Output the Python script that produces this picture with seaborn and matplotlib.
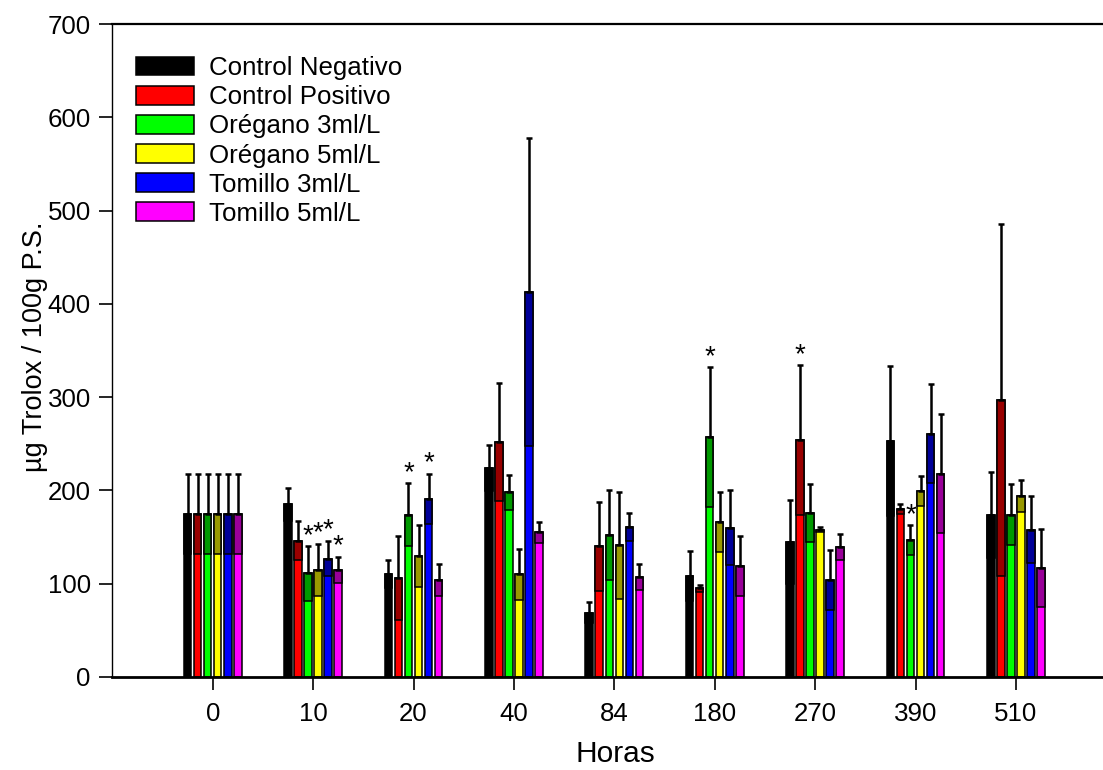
import numpy as np
import pandas as pd
import matplotlib
matplotlib.use("Agg")
import matplotlib.pyplot as plt
import seaborn as sns

# ---------------- data ----------------
hours = ["0", "10", "20", "40", "84", "180", "270", "390", "510"]
treatments = ["Control Negativo", "Control Positivo", "Orégano 3ml/L",
              "Orégano 5ml/L", "Tomillo 3ml/L", "Tomillo 5ml/L"]

cn_mean = [175, 185, 110, 224, 69, 108, 145, 253, 174]
cn_sd = [43, 18, 15, 25, 11, 27, 45, 80, 46]
cp_mean = [175, 146, 106, 252, 140, 95, 254, 180, 297]
cp_sd = [43, 21, 45, 63, 48, 4, 80, 5, 189]
o3_mean = [175, 111, 174, 198, 152, 257, 176, 147, 174]
o3_sd = [43, 29, 34, 19, 48, 75, 31, 16, 33]
o5_mean = [175, 115, 130, 110, 141, 166, 158, 199, 194]
o5_sd = [43, 28, 33, 27, 57, 32, 3, 16, 17]
t3_mean = [175, 127, 191, 413, 161, 160, 104, 261, 158]
t3_sd = [43, 19, 27, 165, 15, 40, 32, 53, 36]
t5_mean = [175, 115, 104, 155, 107, 119, 139, 218, 117]
t5_sd = [43, 14, 17, 11, 14, 32, 14, 64, 42]

# significance marks: (hour index, treatment index)
star_hour = [1, 1, 1, 1, 2, 2, 5, 6, 7]
star_trt = [2, 3, 4, 5, 2, 4, 2, 1, 2]

colors = ["#000000", "#FF0000", "#00FF00", "#FFFF00", "#0000FF", "#FF00FF"]

means = [cn_mean, cp_mean, o3_mean, o5_mean, t3_mean, t5_mean]
sds = [cn_sd, cp_sd, o3_sd, o5_sd, t3_sd, t5_sd]

rows = []
for t, m in zip(treatments, means):
    for h, v in zip(hours, m):
        rows.append({"Horas": h, "trat": t, "val": v})
df = pd.DataFrame(rows)

# ---------------- style ----------------
sns.set_style("white")
plt.rcParams["font.family"] = ["Liberation Sans", "DejaVu Sans"]
plt.rcParams["text.color"] = "black"
plt.rcParams["axes.labelcolor"] = "black"
plt.rcParams["xtick.color"] = "black"
plt.rcParams["ytick.color"] = "black"

W, H = 1103, 770
fig = plt.figure(figsize=(W / 100, H / 100), dpi=100)
left_px, right_px, top_px, bot_px = 112.3, 1103, 24, 677
ax = fig.add_axes([left_px / W, 1 - bot_px / H, (right_px - left_px) / W,
                   (bot_px - top_px) / H])

sns.barplot(data=df, x="Horas", y="val", hue="trat", order=hours,
            hue_order=treatments, palette=colors, width=0.6, gap=0.25,
            saturation=1, edgecolor="black", linewidth=1.1, errorbar=None,
            ax=ax)
bar_conts = list(ax.containers)

# dark lower-error region + upper error bars
for ti, cont in enumerate(bar_conts):
    xs = np.array([b.get_x() + b.get_width() / 2 for b in cont])
    bw = cont[0].get_width()
    m = np.array(means[ti], dtype=float)
    s = np.array(sds[ti], dtype=float)
    base = np.array(matplotlib.colors.to_rgb(colors[ti]))
    dark = base * 0.6
    ax.bar(xs, s, bottom=m - s, width=bw, color=dark, edgecolor="black",
           linewidth=1.1, zorder=3)
    ax.errorbar(xs, m, yerr=[np.zeros_like(s), s], fmt="none", ecolor="black",
                elinewidth=1.8, capsize=2.4, capthick=1.8, zorder=4)

# stars
for hi, ti in zip(star_hour, star_trt):
    b = bar_conts[ti][hi]
    x = b.get_x() + b.get_width() / 2
    y = means[ti][hi] + sds[ti][hi]
    ax.annotate("*", (x, y), xytext=(0, -2), textcoords="offset points",
                ha="center", va="bottom", fontsize=20, zorder=5)

ax.set_xlim(-1, (right_px - 212.7) / 100.4)
ax.set_ylim(0, 700)
ax.set_yticks(np.arange(0, 701, 100))
ax.set_xlabel("")
ax.set_ylabel("")

ax.spines["right"].set_visible(False)
ax.spines["top"].set_linewidth(1.6)
ax.spines["bottom"].set_linewidth(2.0)
ax.spines["left"].set_linewidth(1.0)
for sp in ax.spines.values():
    sp.set_color("black")

ax.tick_params(axis="x", direction="out", length=9, width=1.2,
               labelsize=18.6, pad=9, bottom=True, colors="black")
ax.tick_params(axis="y", direction="out", length=9.5, width=1.2,
               labelsize=18.6, pad=6, left=True, colors="black")

fig.text(35 / W, 1 - 347 / H, "µg Trolox / 100g P.S.", rotation=90,
         ha="center", va="center", fontsize=19.5, color="black")
fig.text(615 / W, 1 - 754 / H, "Horas", ha="center", va="center",
         fontsize=21.5, color="black")

handles, labels = ax.get_legend_handles_labels()
leg = ax.legend(handles[:6], labels[:6], loc="upper left",
                bbox_to_anchor=(136 / W, 1 - 56 / H),
                bbox_transform=fig.transFigure,
                frameon=False, fontsize=18.6, handlelength=2.25,
                handleheight=0.74, handletextpad=0.58, labelspacing=0.2,
                borderpad=0, borderaxespad=0)
for txt in leg.get_texts():
    txt.set_color("black")

fig.savefig("out.png", dpi=100)
